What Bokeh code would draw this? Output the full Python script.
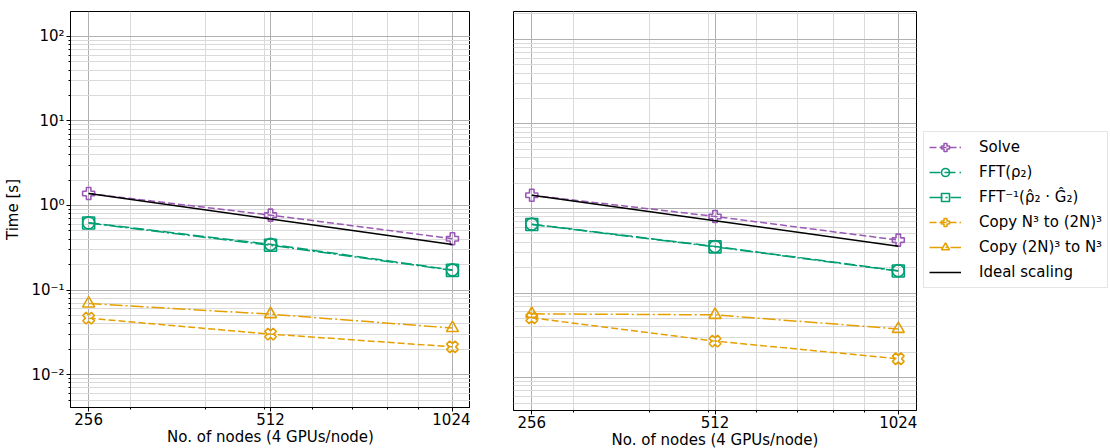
from bokeh.plotting import figure
from bokeh.layouts import row
from bokeh.models import (FixedTicker, Legend, LegendItem, Range1d, BasicTickFormatter)
from bokeh.embed import file_html
from bokeh.resources import INLINE

# ---------------- data ----------------
nodes = [256, 512, 1024]
x_tick_labels = {256: "256", 512: "512", 1024: "1024"}
y_major = [0.01, 0.1, 1, 10, 100]
y_tick_labels = {0.01: "10⁻²", 0.1: "10⁻¹", 1: "10⁰", 10: "10¹", 100: "10²"}
x_minor = [300, 400, 500, 600, 700, 800, 900]

# left panel
L_solve = [1.385, 0.769, 0.405]
L_fft = [0.625, 0.347, 0.173]
L_ifft = [0.62, 0.338, 0.171]
L_copy1 = [0.0465, 0.0301, 0.0213]
L_copy2 = [0.0693, 0.0518, 0.0355]

# right panel
R_solve = [1.435, 0.805, 0.423]
R_fft = [0.653, 0.356, 0.184]
R_ifft = [0.648, 0.352, 0.182]
R_copy1 = [0.0509, 0.0270, 0.0167]
R_copy2 = [0.0568, 0.0552, 0.0376]

labels = ["Solve", "FFT(ρ₂)", "FFT⁻¹(ρ̂₂ · Ĝ₂)", "Copy N³ to (2N)³",
          "Copy (2N)³ to N³", "Ideal scaling"]

PURPLE = "#9b59b6"
GREEN = "#009E73"
ORANGE = "#E69F00"
FONT = "DejaVu Sans"
FS = "15px"

y_minor = [m * 10.0 ** e for e in range(-3, 3) for m in range(2, 10)]


def style(p, show_y):
    p.xaxis.ticker = FixedTicker(ticks=nodes, minor_ticks=x_minor)
    p.xaxis.formatter = BasicTickFormatter()
    p.xaxis.major_label_overrides = x_tick_labels
    yt = FixedTicker(ticks=y_major, minor_ticks=y_minor)
    p.yaxis.ticker = yt
    p.ygrid.ticker = yt
    p.yaxis.major_label_overrides = y_tick_labels
    for ax in (p.xaxis, p.yaxis):
        ax.axis_line_color = "black"
        ax.major_tick_line_color = "black"
        ax.minor_tick_line_color = "black"
        ax.major_tick_in = 0
        ax.major_tick_out = 4
        ax.minor_tick_in = 0
        ax.minor_tick_out = 2
        ax.major_label_text_font = FONT
        ax.major_label_text_font_size = FS
        ax.major_label_text_color = "black"
        ax.axis_label_text_font = FONT
        ax.axis_label_text_font_size = FS
        ax.axis_label_text_font_style = "normal"
        ax.axis_label_text_color = "black"
        ax.axis_label_standoff = 0
        ax.major_label_standoff = 1
    p.xaxis.axis_label = "No. of nodes (4 GPUs/node)"
    if show_y:
        p.yaxis.axis_label = "Time [s]"
        p.yaxis.axis_label_standoff = 6
        p.yaxis.major_label_standoff = 2
    else:
        p.yaxis.visible = False
    for g in (p.xgrid, p.ygrid):
        g.grid_line_color = "#b0b0b0"
        g.grid_line_width = 1
        g.minor_grid_line_color = "#dadada"
        g.minor_grid_line_width = 1
    p.outline_line_color = "black"
    p.outline_line_width = 1
    p.background_fill_color = "white"
    p.border_fill_color = "white"


def draw(p, solve, fft, ifft, copy1, copy2):
    items = []
    series = [
        (solve, PURPLE, "7 3", "plus", 0.0),
        (fft, GREEN, "11 4", "circle", 0.0),
        (ifft, GREEN, "13 3 2 3", "square", 0.0),
        (copy1, ORANGE, "7 3", "plus", 0.785398),
        (copy2, ORANGE, "13 3 2 3", "triangle", 0.0),
    ]
    for (vals, col, dash, mk, ang), lab in zip(series, labels):
        lr = p.line(nodes, vals, line_color=col, line_width=1.5, line_dash=dash)
        sr = p.scatter(nodes, vals, marker=mk, angle=ang, size=12,
                       line_color=col, line_width=1.6, fill_color="white",
                       fill_alpha=0.0)
        items.append(LegendItem(label=lab, renderers=[lr, sr]))
    ideal = [solve[0] * nodes[0] / n for n in nodes]
    ir = p.line(nodes, ideal, line_color="black", line_width=1.5)
    items.append(LegendItem(label=labels[5], renderers=[ir]))
    return items


p1 = figure(x_axis_type="log", y_axis_type="log", x_range=Range1d(238.9, 1097),
            y_range=Range1d(0.00408, 197),
            frame_width=400, frame_height=396, min_border_left=70,
            min_border_right=0, min_border_top=11, min_border_bottom=36,
            toolbar_location=None, output_backend="svg")
style(p1, True)
draw(p1, L_solve, L_fft, L_ifft, L_copy1, L_copy2)

p2 = figure(x_axis_type="log", y_axis_type="log", x_range=Range1d(238.9, 1097),
            y_range=Range1d(0.00408, 214),
            frame_width=403, frame_height=399, min_border_left=43,
            min_border_right=0, min_border_top=8, min_border_bottom=36,
            toolbar_location=None, output_backend="svg")
style(p2, False)
items = draw(p2, R_solve, R_fft, R_ifft, R_copy1, R_copy2)

legend = Legend(items=items, location=(7, 122))
legend.label_text_font = FONT
legend.label_text_font_size = FS
legend.label_text_color = "black"
legend.glyph_width = 32
legend.glyph_height = 20
legend.label_standoff = 18
legend.spacing = 5
legend.padding = 5
legend.margin = 0
legend.border_line_color = "#cccccc"
legend.border_line_width = 1
legend.background_fill_color = "white"
legend.background_fill_alpha = 0.8
p2.add_layout(legend, "right")

layout = row(p1, p2)
open("out.html", "w").write(file_html(layout, INLINE))
